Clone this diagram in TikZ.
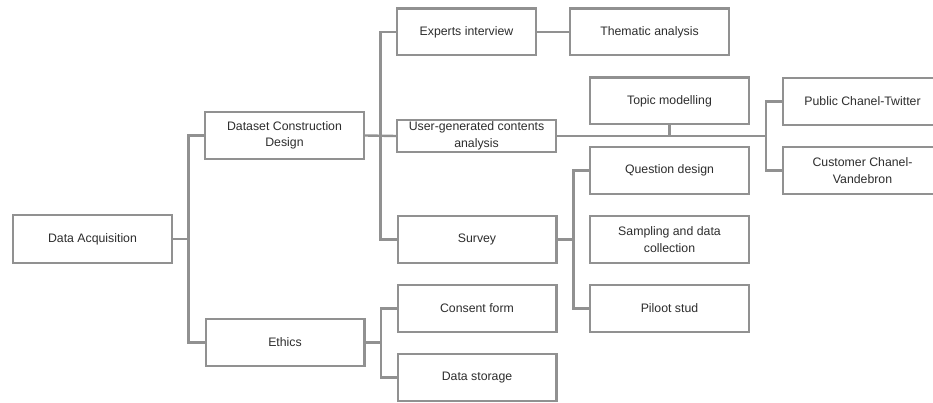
\documentclass[tikz,border=0pt]{standalone}
\usepackage{fontspec}
\setmainfont{Liberation Sans}
\usetikzlibrary{calc}
\definecolor{edgegray}{RGB}{145,145,145}
\definecolor{textdark}{RGB}{45,45,45}
\tikzset{
  box/.style={draw=edgegray, line width=2.4pt, fill=white, text=textdark,
    minimum width=158.6pt, minimum height=46.6pt, inner sep=2pt,
    align=center, font=\fontsize{12.3}{16.5}\selectfont},
  link/.style={draw=edgegray, line width=2.4pt}
}
\begin{document}
\begin{tikzpicture}[x=1pt,y=-1pt]
\path[use as bounding box, clip] (0,0) rectangle (933,403);
% level 0
\node[box, minimum height=47.6pt] (acq) at (92.5,239) {Data Acquisition};
% level 1
\node[box] (design) at (284.5,135.5) {Dataset Construction\\Design};
\node[box] (ethics) at (285,342.5) {Ethics};
% level 2
\node[box, minimum width=138.6pt] (expert) at (466.5,32) {Experts interview};
\node[box, minimum height=31.6pt] (ugc) at (476.5,136) {User-generated contents\\analysis};
\node[box] (survey) at (477,239.5) {Survey};
\node[box] (consent) at (477,308.5) {Consent form};
\node[box] (storage) at (477,377.5) {Data storage};
% level 3
\node[box] (thematic) at (649.5,32) {Thematic analysis};
\node[box] (topic) at (669.5,101) {Topic modelling};
\node[box] (question) at (669.5,170.5) {Question design};
\node[box] (sampling) at (669.5,239.5) {Sampling and data\\collection};
\node[box] (pilot) at (669.5,308.5) {Piloot stud};
% level 4
\node[box] (twitter) at (862.5,101.5) {Public Chanel-Twitter};
\node[box] (customer) at (862.5,170.5) {Customer Chanel-\\Vandebron};
% connectors
\draw[link] (acq.east) -- ++(15.5,0) coordinate (t1);
\draw[link] (design.west) -- (design.west -| t1) |- (ethics.west);
\draw[link] (design.east) -- (ugc.west);
\draw[link] (expert.west) -- ++(-15.5,0) coordinate (t2) |- (survey.west);
\draw[link] (expert.east) -- (thematic.west);
\draw[link] (twitter.west) -- ++(-16,0) coordinate (t3) |- (customer.west);
\draw[link] (ugc.east) -- (ugc.east -| t3);
\draw[link] (topic.south) -- (topic.south |- ugc.east);
\draw[link] (question.west) -- ++(-15.5,0) coordinate (t4) |- (pilot.west);
\draw[link] (survey.east) -- (survey.east -| t4);
\draw[link] (consent.west) -- ++(-15.5,0) coordinate (t5) |- (storage.west);
\draw[link] (ethics.east) -- (ethics.east -| t5);
\end{tikzpicture}
\end{document}
